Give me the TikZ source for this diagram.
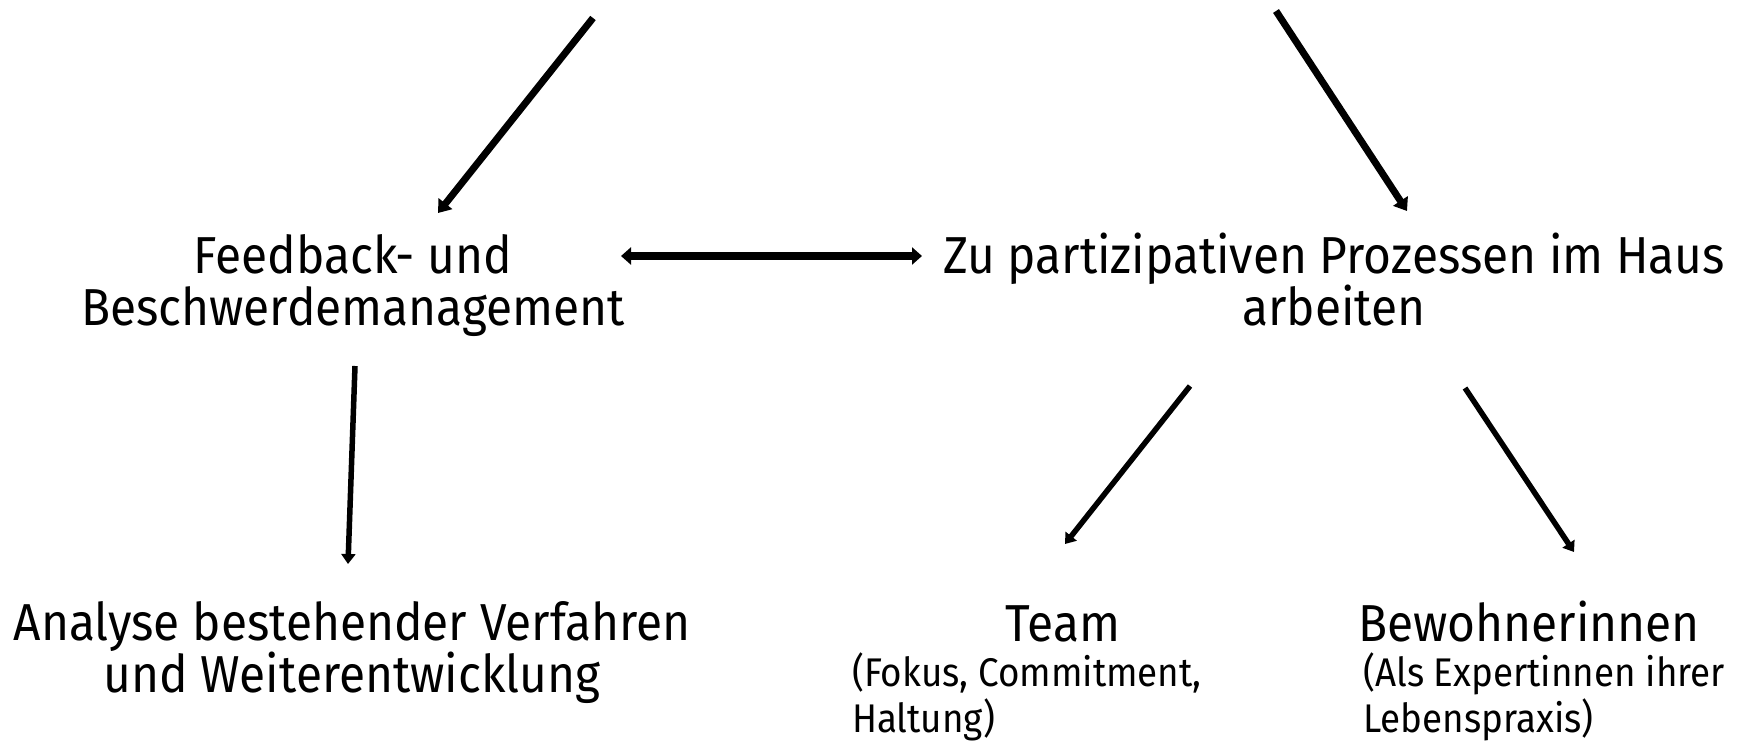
\documentclass[tikz,border=0pt]{standalone}
\usepackage{fontspec}
\setmainfont{Fira Sans}[FakeStretch=0.92]
\usetikzlibrary{arrows.meta}
\newcommand\mynoskip{\lineskiplimit=-100pt\relax\lineskip=0pt\relax}
\begin{document}
\begin{tikzpicture}[x=1pt,y=-1pt,
  big/.style={font=\fontsize{52}{52}\selectfont, align=center, inner sep=0pt, anchor=base},
  small/.style={font={\fontsize{40}{46}\selectfont\mynoskip}, align=left, inner sep=0pt, anchor=base west},
  arr/.style={line width=7pt, -{Triangle[width=17pt,length=12pt]}},
  arrthin/.style={line width=5.5pt, -{Triangle[width=14pt,length=10pt]}},
  darr/.style={line width=8pt, {Triangle[width=17pt,length=10pt]}-{Triangle[width=17pt,length=10pt]}}
]
\useasboundingbox (0,0) rectangle (1740,742);
\node[big] (fb) at (353,325) {Feedback- und\\Beschwerdemanagement};
\node[big] (zu) at (1334,325) {Zu partizipativen Prozessen im Haus\\arbeiten};
\node[big] (an) at (352,692) {Analyse bestehender Verfahren\\und Weiterentwicklung};
\node[big] (team) at (1063,641) {Team};
\node[small] (fokus) at (852,732) {(Fokus, Commitment,\\Haltung)};
\node[big] (bew) at (1529,641) {Bewohnerinnen};
\node[small] (als) at (1363,732) {(Als Expertinnen ihrer\\Lebenspraxis)};

\coordinate (s1) at (593,18);   \coordinate (e1) at (438,213);
\coordinate (s2) at (1276,11);  \coordinate (e2) at (1407,211);
\coordinate (d1) at (621,256);  \coordinate (d2) at (922,256);
\coordinate (s3) at (355,366);  \coordinate (e3) at (348,564);
\coordinate (s4) at (1190,386); \coordinate (e4) at (1065,544);
\coordinate (s5) at (1465,388); \coordinate (e5) at (1574,552);

\draw[arr] (s1) -- (e1);
\draw[arr] (s2) -- (e2);
\draw[darr] (d1) -- (d2);
\draw[arrthin] (s3) -- (e3);
\draw[arrthin] (s4) -- (e4);
\draw[arrthin] (s5) -- (e5);
\end{tikzpicture}
\end{document}
